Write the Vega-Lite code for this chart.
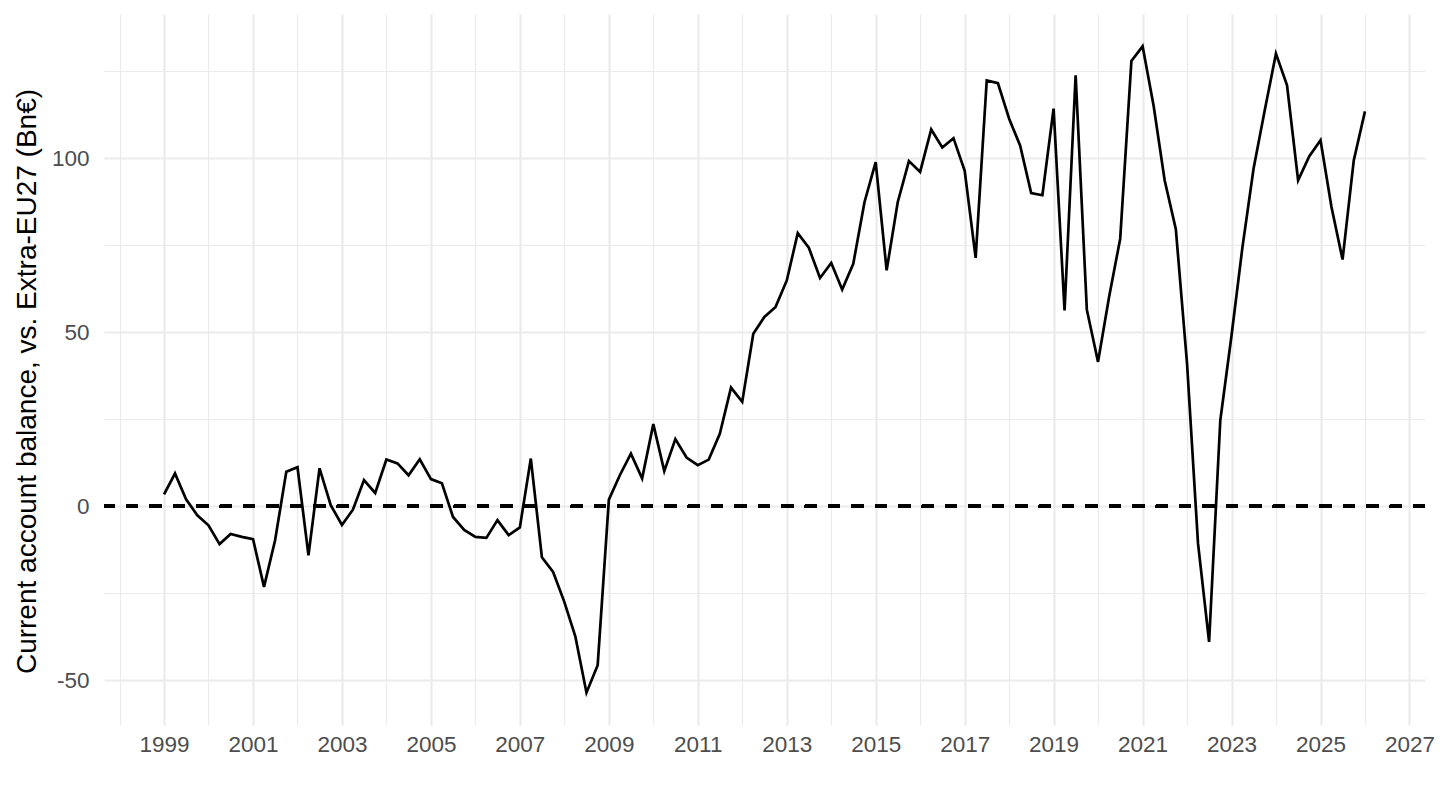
{
  "$schema": "https://vega.github.io/schema/vega-lite/v6.json",
  "width": 1321,
  "height": 711,
  "autosize": {"type": "none"},
  "padding": {"left": 104, "top": 14, "right": 15, "bottom": 85},
  "background": "white",
  "config": {
    "view": {"stroke": null},
    "font": "Liberation Sans"
  },
  "data": {
    "values": [
      {"date": "1999-01-01", "value": 3.4},
      {"date": "1999-04-01", "value": 9.4},
      {"date": "1999-07-01", "value": 2.0},
      {"date": "1999-10-01", "value": -2.6},
      {"date": "2000-01-01", "value": -5.5},
      {"date": "2000-04-01", "value": -10.9},
      {"date": "2000-07-01", "value": -8.0},
      {"date": "2000-10-01", "value": -8.8},
      {"date": "2001-01-01", "value": -9.5},
      {"date": "2001-04-01", "value": -23.2},
      {"date": "2001-07-01", "value": -9.8},
      {"date": "2001-10-01", "value": 9.9},
      {"date": "2002-01-01", "value": 11.2},
      {"date": "2002-04-01", "value": -14.1},
      {"date": "2002-07-01", "value": 10.9},
      {"date": "2002-10-01", "value": 0.3},
      {"date": "2003-01-01", "value": -5.4},
      {"date": "2003-04-01", "value": -1.0},
      {"date": "2003-07-01", "value": 7.5},
      {"date": "2003-10-01", "value": 3.8},
      {"date": "2004-01-01", "value": 13.4},
      {"date": "2004-04-01", "value": 12.3},
      {"date": "2004-07-01", "value": 8.9},
      {"date": "2004-10-01", "value": 13.5},
      {"date": "2005-01-01", "value": 7.8},
      {"date": "2005-04-01", "value": 6.6},
      {"date": "2005-07-01", "value": -3.1},
      {"date": "2005-10-01", "value": -6.8},
      {"date": "2006-01-01", "value": -8.8},
      {"date": "2006-04-01", "value": -9.1},
      {"date": "2006-07-01", "value": -4.0},
      {"date": "2006-10-01", "value": -8.3},
      {"date": "2007-01-01", "value": -6.1},
      {"date": "2007-04-01", "value": 13.7},
      {"date": "2007-07-01", "value": -14.7},
      {"date": "2007-10-01", "value": -18.9},
      {"date": "2008-01-01", "value": -27.5},
      {"date": "2008-04-01", "value": -37.5},
      {"date": "2008-07-01", "value": -53.6},
      {"date": "2008-10-01", "value": -45.7},
      {"date": "2009-01-01", "value": 1.9},
      {"date": "2009-04-01", "value": 8.9},
      {"date": "2009-07-01", "value": 15.1},
      {"date": "2009-10-01", "value": 8.0},
      {"date": "2010-01-01", "value": 23.6},
      {"date": "2010-04-01", "value": 10.1},
      {"date": "2010-07-01", "value": 19.3},
      {"date": "2010-10-01", "value": 14.0},
      {"date": "2011-01-01", "value": 11.8},
      {"date": "2011-04-01", "value": 13.4},
      {"date": "2011-07-01", "value": 20.8},
      {"date": "2011-10-01", "value": 34.1},
      {"date": "2012-01-01", "value": 30.0},
      {"date": "2012-04-01", "value": 49.6},
      {"date": "2012-07-01", "value": 54.4},
      {"date": "2012-10-01", "value": 57.3},
      {"date": "2013-01-01", "value": 64.9},
      {"date": "2013-04-01", "value": 78.5},
      {"date": "2013-07-01", "value": 74.3},
      {"date": "2013-10-01", "value": 65.6},
      {"date": "2014-01-01", "value": 69.9},
      {"date": "2014-04-01", "value": 62.3},
      {"date": "2014-07-01", "value": 69.7},
      {"date": "2014-10-01", "value": 87.4},
      {"date": "2015-01-01", "value": 98.9},
      {"date": "2015-04-01", "value": 67.8},
      {"date": "2015-07-01", "value": 87.4},
      {"date": "2015-10-01", "value": 99.2},
      {"date": "2016-01-01", "value": 96.1},
      {"date": "2016-04-01", "value": 108.3},
      {"date": "2016-07-01", "value": 103.1},
      {"date": "2016-10-01", "value": 105.8},
      {"date": "2017-01-01", "value": 96.4},
      {"date": "2017-04-01", "value": 71.4},
      {"date": "2017-07-01", "value": 122.4},
      {"date": "2017-10-01", "value": 121.6},
      {"date": "2018-01-01", "value": 111.4},
      {"date": "2018-04-01", "value": 103.7},
      {"date": "2018-07-01", "value": 90.0},
      {"date": "2018-10-01", "value": 89.4},
      {"date": "2019-01-01", "value": 114.3},
      {"date": "2019-04-01", "value": 56.3},
      {"date": "2019-07-01", "value": 123.9},
      {"date": "2019-10-01", "value": 56.5},
      {"date": "2020-01-01", "value": 41.5},
      {"date": "2020-04-01", "value": 60.2},
      {"date": "2020-07-01", "value": 76.9},
      {"date": "2020-10-01", "value": 128.0},
      {"date": "2021-01-01", "value": 132.2},
      {"date": "2021-04-01", "value": 115.2},
      {"date": "2021-07-01", "value": 93.7},
      {"date": "2021-10-01", "value": 79.6},
      {"date": "2022-01-01", "value": 41.0},
      {"date": "2022-04-01", "value": -10.7},
      {"date": "2022-07-01", "value": -39.0},
      {"date": "2022-10-01", "value": 24.7},
      {"date": "2023-01-01", "value": 49.0},
      {"date": "2023-04-01", "value": 74.5},
      {"date": "2023-07-01", "value": 97.0},
      {"date": "2023-10-01", "value": 113.8},
      {"date": "2024-01-01", "value": 130.1},
      {"date": "2024-04-01", "value": 121.0},
      {"date": "2024-07-01", "value": 93.7},
      {"date": "2024-10-01", "value": 100.6},
      {"date": "2025-01-01", "value": 105.2},
      {"date": "2025-04-01", "value": 86.0},
      {"date": "2025-07-01", "value": 70.9},
      {"date": "2025-10-01", "value": 99.4},
      {"date": "2026-01-01", "value": 113.5}
    ]
  },
  "layer": [
    {
      "mark": {"type": "line", "color": "black", "strokeWidth": 2.7, "strokeJoin": "miter"},
      "encoding": {
        "x": {
          "field": "date",
          "type": "temporal",
          "scale": {
            "type": "utc",
            "domain": [{"year": 1997, "month": 8, "date": 26, "utc": true}, {"year": 2027, "month": 5, "date": 9, "utc": true}],
            "nice": false
          },
          "axis": {
            "title": null,
            "values": [
              {"year": 1998, "utc": true}, {"year": 1999, "utc": true}, {"year": 2000, "utc": true}, {"year": 2001, "utc": true},
              {"year": 2002, "utc": true}, {"year": 2003, "utc": true}, {"year": 2004, "utc": true}, {"year": 2005, "utc": true},
              {"year": 2006, "utc": true}, {"year": 2007, "utc": true}, {"year": 2008, "utc": true}, {"year": 2009, "utc": true},
              {"year": 2010, "utc": true}, {"year": 2011, "utc": true}, {"year": 2012, "utc": true}, {"year": 2013, "utc": true},
              {"year": 2014, "utc": true}, {"year": 2015, "utc": true}, {"year": 2016, "utc": true}, {"year": 2017, "utc": true},
              {"year": 2018, "utc": true}, {"year": 2019, "utc": true}, {"year": 2020, "utc": true}, {"year": 2021, "utc": true},
              {"year": 2022, "utc": true}, {"year": 2023, "utc": true}, {"year": 2024, "utc": true}, {"year": 2025, "utc": true},
              {"year": 2026, "utc": true}, {"year": 2027, "utc": true}
            ],
            "labelExpr": "utcyear(datum.value) % 2 === 1 ? utcFormat(datum.value, '%Y') : ''",
            "labelOverlap": false,
            "labelFlush": false,
            "labelBound": false,
            "labelFontSize": 22.5,
            "labelColor": "#4D4D4D",
            "labelFont": "Liberation Sans",
            "labelPadding": 8,
            "ticks": false,
            "domain": false,
            "grid": true,
            "gridColor": "#EBEBEB",
            "gridWidth": {"condition": {"test": "utcyear(datum.value) % 2 === 1", "value": 2.2}, "value": 1.1}
          }
        },
        "y": {
          "field": "value",
          "type": "quantitative",
          "scale": {"domain": [-62.9, 141.5], "nice": false, "zero": false},
          "axis": {
            "title": "Current account balance, vs. Extra-EU27 (Bn€)",
            "titleFontSize": 28,
            "titleFontWeight": "normal",
            "titleColor": "black",
            "titleFont": "Liberation Sans",
            "titleX": -69,
            "titleY": 367,
            "titleBaseline": "alphabetic",
            "values": [-50, -25, 0, 25, 50, 75, 100, 125],
            "labelExpr": "datum.value % 50 === 0 ? '' + datum.value : ''",
            "labelOverlap": false,
            "labelFlush": false,
            "labelBound": false,
            "labelFontSize": 22.5,
            "labelColor": "#4D4D4D",
            "labelFont": "Liberation Sans",
            "labelPadding": 15,
            "ticks": false,
            "domain": false,
            "grid": true,
            "gridColor": "#EBEBEB",
            "gridWidth": {"condition": {"test": "datum.value % 50 === 0", "value": 2.2}, "value": 1.1}
          }
        }
      }
    },
    {
      "mark": {"type": "rule", "color": "black", "strokeWidth": 2.7, "strokeDash": [11.7, 11.7]},
      "encoding": {"y": {"datum": 0}}
    }
  ]
}
